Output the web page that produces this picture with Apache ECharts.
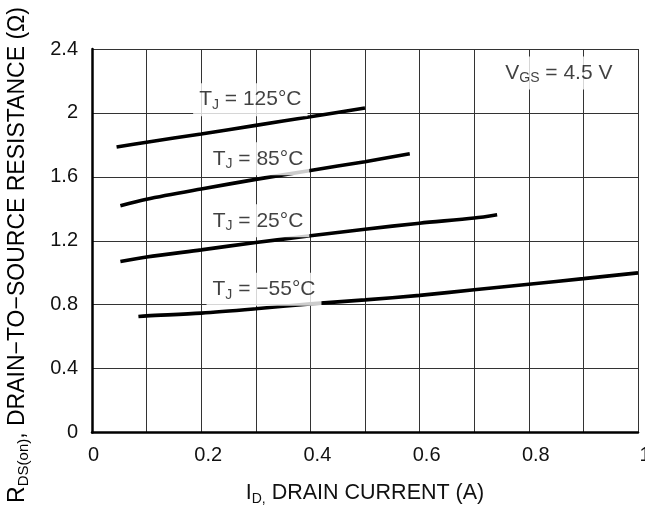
<!DOCTYPE html>
<html>
<head>
<meta charset="utf-8">
<style>
  html, body { margin: 0; padding: 0; background: #ffffff; }
  #chart { width: 645px; height: 512px; }
</style>
<script src="https://cdn.jsdelivr.net/npm/echarts@6/dist/echarts.min.js"></script>
</head>
<body>
<div id="chart"></div>
<script>
// On-resistance vs. drain current at four junction temperatures (VGS = 4.5 V)
const FONT = '"Liberation Sans", Arial, Helvetica, sans-serif';

// Drain current (A) and RDS(on) (ohm) for each junction temperature
const id125 = [0.045, 0.1, 0.2, 0.3, 0.4, 0.5];
const r125  = [1.787, 1.817, 1.868, 1.922, 1.976, 2.031];

const id85 = [0.052, 0.1, 0.2, 0.3, 0.4, 0.5, 0.582];
const r85  = [1.419, 1.46, 1.524, 1.584, 1.64, 1.695, 1.745];

const id25 = [0.052, 0.1, 0.2, 0.3, 0.4, 0.5, 0.6, 0.7, 0.742];
const r25  = [1.07, 1.098, 1.143, 1.189, 1.231, 1.272, 1.31, 1.342, 1.363];

const idM55 = [0.085, 0.1, 0.2, 0.3, 0.4, 0.5, 0.6, 0.7, 0.8, 0.9, 1.0];
const rM55  = [0.726, 0.73, 0.747, 0.774, 0.805, 0.83, 0.858, 0.893, 0.928, 0.963, 0.999];

// Curve captions: anchor point (A, ohm) and temperature text
const captionX = [0.290, 0.304, 0.304, 0.315];
const captionY = [2.083, 1.713, 1.325, 0.897];
const captionTemp = ['125°C', '85°C', '25°C', '\u221255°C'];

// Test-condition note
const noteX = 0.855;
const noteY = 2.25;

// Tick labels
const xTickLabels = ['0', '0.2', '0.4', '0.6', '0.8', '1'];
const yTickLabels = ['0', '0.4', '0.8', '1.2', '1.6', '2', '2.4'];

const zip = (xs, ys) => xs.map((x, i) => [x, ys[i]]);

function richSet(size, subSize) {
  return {
    n: { fontSize: size, lineHeight: size + 4, fontFamily: FONT, color: '#111' },
    s: { fontSize: subSize, lineHeight: subSize + 1, fontFamily: FONT, color: '#111', verticalAlign: 'bottom' }
  };
}

const curveStyle = { color: '#000', width: 3.6 };

function curve(name, xs, ys) {
  return {
    name: name,
    type: 'line',
    data: zip(xs, ys),
    smooth: 0.3,
    showSymbol: false,
    lineStyle: curveStyle,
    itemStyle: { color: '#000' },
    z: 3
  };
}

const captionData = captionX.map((x, i) => ({
  value: [x, captionY[i]],
  label: { formatter: '{n|T}{s|J}{n| = ' + captionTemp[i] + '}' }
}));
captionData.push({
  value: [noteX, noteY],
  label: { formatter: '{n|V}{s|GS}{n| = 4.5 V}' }
});

const chart = echarts.init(document.getElementById('chart'), null, { renderer: 'canvas' });

chart.setOption({
  animation: false,
  backgroundColor: '#ffffff',
  grid: { left: 92, right: 7, top: 49, bottom: 79.5, containLabel: false, outerBoundsMode: 'none' },
  xAxis: {
    type: 'value',
    min: 0,
    max: 1,
    interval: 0.1,
    axisLine: { show: true, onZero: false, lineStyle: { color: '#000', width: 2.5 } },
    axisTick: { show: false },
    splitLine: { show: true, lineStyle: { color: '#333', width: 1 } },
    axisLabel: {
      margin: 13,
      fontSize: 20,
      fontFamily: FONT,
      color: '#111',
      showMaxLabel: true,
      hideOverlap: false,
      rich: {
        z: { fontSize: 20, fontFamily: FONT, color: '#111', padding: [0, 0, 0, 3] },
        p: { fontSize: 20, fontFamily: FONT, color: '#111', padding: [0, 0, 0, 14] }
      },
      formatter: function (v) {
        const k = Math.round(v * 10);
        if (k % 2 !== 0) return '';
        return (k === 0 ? '{z|' : '{p|') + xTickLabels[k / 2] + '}';
      }
    },
    name: '{n|I}{s|D,}{n| DRAIN CURRENT (A)}',
    nameLocation: 'middle',
    nameGap: 48,
    nameTextStyle: { rich: richSet(21.5, 14) }
  },
  yAxis: {
    type: 'value',
    min: 0,
    max: 2.4,
    interval: 0.4,
    axisLine: { show: true, onZero: false, lineStyle: { color: '#000', width: 2.5 } },
    axisTick: { show: false },
    splitLine: { show: true, lineStyle: { color: '#333', width: 1 } },
    axisLabel: {
      margin: 14,
      fontSize: 20,
      fontFamily: FONT,
      color: '#111',
      formatter: function (v) {
        return yTickLabels[Math.round(v / 0.4)];
      }
    }
  },
  graphic: [{
    type: 'text',
    x: 18,
    y: 255,
    rotation: Math.PI / 2,
    style: {
      text: '{n|R}{s|DS(on)}{n|, DRAIN\u2212TO\u2212SOURCE RESISTANCE (\u03A9)}',
      rich: richSet(23, 15),
      align: 'center',
      verticalAlign: 'middle'
    }
  }],
  series: [
    curve('125', id125, r125),
    curve('85', id85, r85),
    curve('25', id25, r25),
    curve('-55', idM55, rM55),
    {
      name: 'captions',
      type: 'scatter',
      symbolSize: 0,
      data: captionData,
      z: 5,
      silent: true,
      label: {
        show: true,
        position: 'inside',
        backgroundColor: '#ffffff',
        padding: [4, 6],
        rich: richSet(21, 14)
      }
    }
  ]
});
</script>
</body>
</html>
